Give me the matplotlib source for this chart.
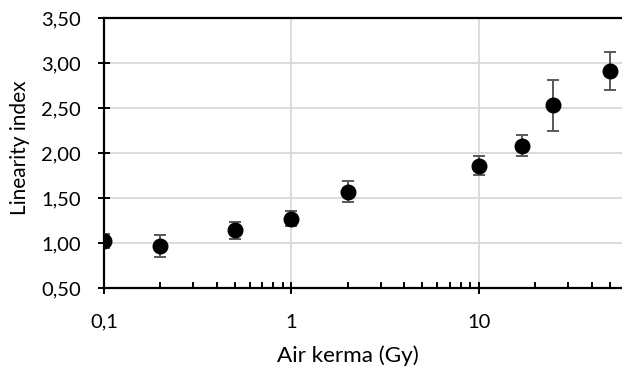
import matplotlib
matplotlib.use("Agg")
import matplotlib.pyplot as plt
from matplotlib.ticker import FuncFormatter, LogLocator, FixedLocator, NullFormatter

plt.rcParams['font.family'] = ['Lato', 'DejaVu Sans']

air_kerma = [0.1, 0.2, 0.5, 1, 2, 10, 17, 25, 50]
linearity = [1.02, 0.97, 1.14, 1.27, 1.57, 1.86, 2.08, 2.53, 2.91]
errors = [0.08, 0.12, 0.09, 0.085, 0.12, 0.105, 0.115, 0.28, 0.21]

x_ticks = [0.1, 1, 10]
x_tick_labels = ["0,1", "1", "10"]
y_ticks = [0.5, 1.0, 1.5, 2.0, 2.5, 3.0, 3.5]

W, H = 622, 377
fig = plt.figure(figsize=(W / 100, H / 100), dpi=100)
ax = fig.add_axes([104 / W, 1 - 288 / H, 1 - 104 / W, (288 - 18) / H])

ax.errorbar(air_kerma, linearity, yerr=errors, fmt='o', color='black',
            ecolor='#595959', elinewidth=1.4, capsize=4.5, capthick=1.4,
            markersize=10.5, zorder=3)

ax.set_xscale('log')
ax.set_xlim(0.1, 58)
ax.set_ylim(0.5, 3.5)

ax.xaxis.set_major_locator(FixedLocator(x_ticks))
ax.set_xticklabels(x_tick_labels)
ax.xaxis.set_minor_locator(LogLocator(base=10, subs=range(2, 10)))
ax.xaxis.set_minor_formatter(NullFormatter())
ax.set_yticks(y_ticks)
ax.yaxis.set_major_formatter(FuncFormatter(lambda v, p: f"{v:.2f}".replace('.', ',')))

ax.grid(True, which='major', color='#d9d9d9', linewidth=1.3, zorder=0)
ax.set_axisbelow(True)

for s in ['left', 'bottom', 'top']:
    ax.spines[s].set_linewidth(1.6)
    ax.spines[s].set_color('black')
ax.spines['right'].set_visible(False)

ax.tick_params(axis='y', which='major', direction='inout', length=9, width=1.4,
               labelsize=14.5, pad=12, colors='black')
ax.tick_params(axis='x', which='major', direction='inout', length=9, width=1.4,
               labelsize=14.5, pad=14, colors='black')
ax.tick_params(axis='x', which='minor', direction='in', length=4.5, width=1.4)

fig.text(348 / W, 1 - 356 / H, "Air kerma (Gy)", ha='center', va='center', fontsize=16.2)
fig.text(20 / W, 1 - 148 / H, "Linearity index", ha='center', va='center',
         rotation=90, fontsize=15)

fig.savefig("out.png", dpi=100)
